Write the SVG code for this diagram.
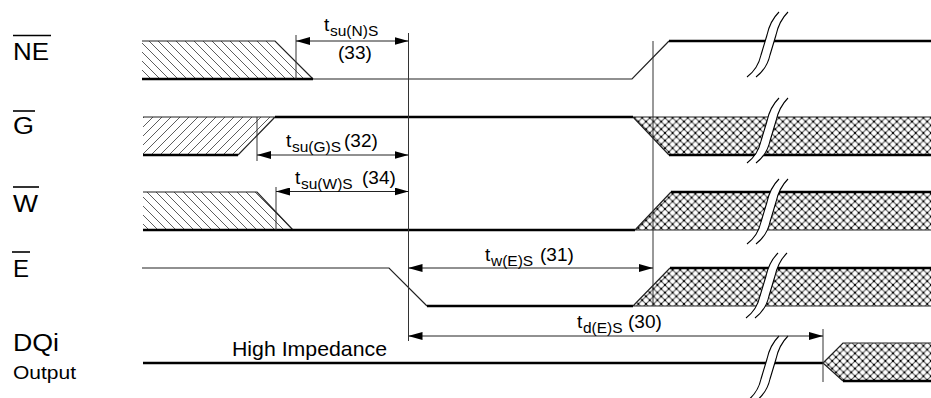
<svg xmlns="http://www.w3.org/2000/svg" width="931" height="398" viewBox="0 0 931 398">
<style>
text{font-family:"Liberation Sans",Arial,sans-serif;fill:#000}
.lbl{font-size:23px}
.dim{font-size:19px}
.sub{font-size:15.5px}
.thk{stroke:#000;stroke-width:2.4;fill:none}
.thn{stroke:#222;stroke-width:1.2;fill:none}
.ref{stroke:#333;stroke-width:1;fill:none}
.arr{stroke:#222;stroke-width:1;fill:none;marker-start:url(#ah);marker-end:url(#ah)}
.ol{stroke:#000;stroke-width:1.6}
</style>
<defs>
<marker id="ah" viewBox="0 0 14 8" refX="14" refY="4" markerWidth="14" markerHeight="8" orient="auto-start-reverse" markerUnits="userSpaceOnUse"><path d="M0,0 L14,4 L0,8 z" fill="#000"/></marker>
<pattern id="bs" width="9" height="9" patternUnits="userSpaceOnUse"><path d="M-1,-1 L10,10 M-1,8 L1,10 M8,-1 L10,1" stroke="#333" stroke-width="0.8"/></pattern>
<pattern id="fs" width="9" height="9" patternUnits="userSpaceOnUse"><path d="M-1,10 L10,-1 M-1,1 L1,-1 M8,10 L10,8" stroke="#333" stroke-width="0.8"/></pattern>
<pattern id="xh" width="7.6" height="7.6" patternUnits="userSpaceOnUse"><rect width="7.6" height="7.6" fill="#fff"/><path d="M0,0 L7.6,7.6 M7.6,0 L0,7.6" stroke="#555" stroke-width="1.1"/><circle cx="3.8" cy="3.8" r="1.1" fill="#000"/><circle cx="0" cy="0" r="1.1" fill="#000"/><circle cx="7.6" cy="0" r="1.1" fill="#000"/><circle cx="0" cy="7.6" r="1.1" fill="#000"/><circle cx="7.6" cy="7.6" r="1.1" fill="#000"/></pattern>
<g id="brk">
<path d="M-17,32 C-9,26 -5,19 -3,10 L3,-10 C5,-19 9,-27 15,-33 L24,-33 C18,-27 14,-19 12,-10 L6,10 C4,19 0,26 -8,32 Z" fill="#fff"/>
<path d="M-17,32 C-9,26 -5,19 -3,10 L3,-10 C5,-19 9,-27 15,-33" fill="none" stroke="#000" stroke-width="1.1"/>
<path d="M-8,32 C0,26 4,19 6,10 L12,-10 C14,-19 18,-27 24,-33" fill="none" stroke="#000" stroke-width="1.1"/>
</g>
</defs>
<rect width="931" height="398" fill="#fff"/>

<g id="sig-NE">
<text class="lbl" x="13" y="60" textLength="36" lengthAdjust="spacingAndGlyphs">NE</text>
<line class="ol" x1="13" y1="35.5" x2="51" y2="35.5"/>
<path d="M142,41 L275,41 L313,79 L142,79 Z" fill="url(#bs)"/>
<path class="thn" d="M142,41 L275,41 L313,79"/>
<path class="thk" d="M142,79 L313,79"/>
<path class="thn" d="M313,79 L632,79 L669,41"/>
<path class="thk" d="M669,41 L931,41"/>
<use href="#brk" x="764" y="45"/>
</g>

<g id="sig-G">
<text class="lbl" x="13" y="134" textLength="21" lengthAdjust="spacingAndGlyphs">G</text>
<line class="ol" x1="13" y1="111" x2="35" y2="111"/>
<path d="M143,117 L275,117 L238,155 L143,155 Z" fill="url(#fs)"/>
<path class="thn" d="M143,117 L275,117 L238,155"/>
<path class="thk" d="M143,155 L238,155"/>
<path class="thk" d="M275,117 L633,117"/>
<path d="M633,117 L931,117 L931,155 L669,155 Z" fill="url(#xh)"/>
<path class="thn" d="M633,117 L931,117 M633,117 L669,155"/>
<path class="thk" d="M669,155 L931,155"/>
<use href="#brk" x="764" y="131"/>
</g>

<g id="sig-W">
<text class="lbl" x="13" y="212" textLength="25" lengthAdjust="spacingAndGlyphs">W</text>
<line class="ol" x1="13" y1="187" x2="39" y2="187"/>
<path d="M143,192 L257,192 L293,230 L143,230 Z" fill="url(#bs)"/>
<path class="thn" d="M143,192 L257,192 L293,230"/>
<path class="thk" d="M143,230 L635,230"/>
<path d="M635,230 L671,192 L931,192 L931,230 Z" fill="url(#xh)"/>
<path class="thn" d="M635,230 L931,230 M635,230 L671,192"/>
<path class="thk" d="M671,192 L931,192"/>
<use href="#brk" x="764" y="212"/>
</g>

<g id="sig-E">
<text class="lbl" x="13" y="277" textLength="16" lengthAdjust="spacingAndGlyphs">E</text>
<line class="ol" x1="12" y1="252" x2="30" y2="252"/>
<path class="thn" d="M142,268 L389,268 L427,306"/>
<path class="thk" d="M427,306 L633,306"/>
<path d="M633,306 L670,268 L931,268 L931,306 Z" fill="url(#xh)"/>
<path class="thn" d="M633,306 L931,306 M633,306 L670,268"/>
<path class="thk" d="M670,268 L931,268"/>
<use href="#brk" x="763" y="286"/>
</g>

<g id="sig-DQi">
<text class="lbl" x="13" y="351" textLength="46" lengthAdjust="spacingAndGlyphs">DQi</text>
<text x="13" y="379" font-size="19" textLength="63" lengthAdjust="spacingAndGlyphs">Output</text>
<text x="232" y="356" font-size="21" textLength="155" lengthAdjust="spacingAndGlyphs">High Impedance</text>
<path class="thk" d="M143,363 L823,363"/>
<path d="M823,363 L843,343 L931,343 L931,381 L843,381 Z" fill="url(#xh)"/>
<path class="thn" d="M823,363 L843,343 L931,343 M823,363 L843,381"/>
<path class="thk" d="M843,381 L931,381"/>
<use href="#brk" x="764" y="369"/>
</g>

<g id="connectors">
<path class="ref" d="M296,35 V79 M408.5,33 V341 M257,117 V161 M276,187 V230 M653,41 V306 M823,329 V382"/>
<path class="arr" d="M296,41 H408.5"/>
<path class="arr" d="M257,155 H408.5"/>
<path class="arr" d="M276,191.5 H408.5"/>
<path class="arr" d="M408.5,268 H653"/>
<path class="arr" d="M408.5,336 H823"/>
<text class="dim" y="31"><tspan x="324">t</tspan><tspan class="sub" x="330" dy="5">su(N)S</tspan></text>
<text class="dim" x="338" y="59">(33)</text>
<text class="dim" y="147"><tspan x="286">t</tspan><tspan class="sub" x="292" dy="5">su(G)S</tspan><tspan x="344" dy="-5">(32)</tspan></text>
<text class="dim" y="184"><tspan x="295">t</tspan><tspan class="sub" x="301" dy="5">su(W)S</tspan><tspan x="362" dy="-5">(34)</tspan></text>
<text class="dim" y="261"><tspan x="485">t</tspan><tspan class="sub" x="491" dy="5">w(E)S</tspan><tspan x="540" dy="-5">(31)</tspan></text>
<text class="dim" y="328"><tspan x="577">t</tspan><tspan class="sub" x="583" dy="5">d(E)S</tspan><tspan x="628" dy="-5">(30)</tspan></text>
</g>
</svg>
